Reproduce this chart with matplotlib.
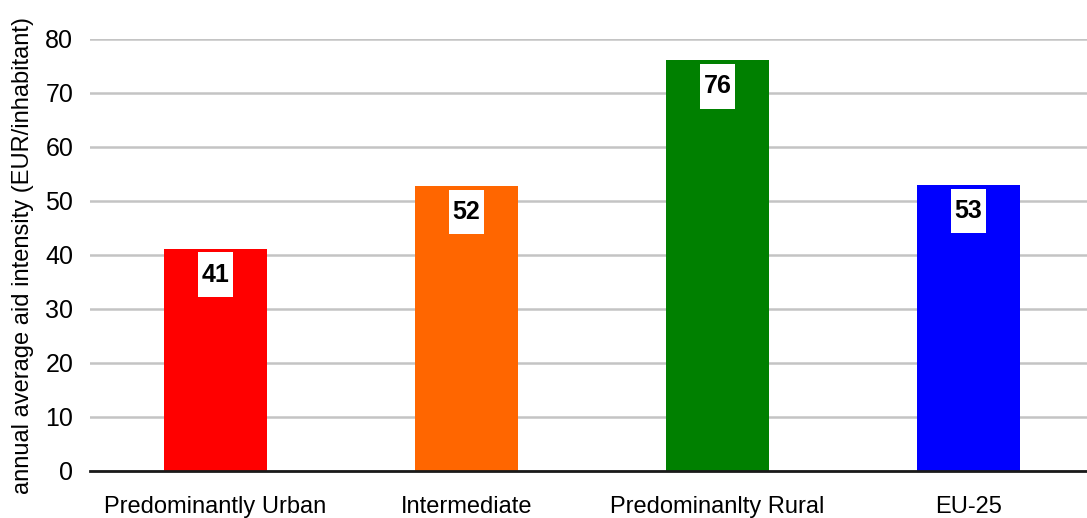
import matplotlib
matplotlib.use("Agg")
import matplotlib.pyplot as plt
from matplotlib.patches import Rectangle

# datos
categorias = ["Predominantly Urban", "Intermediate", "Predominanlty Rural", "EU-25"]
valores = [41.2, 52.8, 76.1, 53.0]
etiquetas = ["41", "52", "76", "53"]
colores = ["#ff0000", "#ff6600", "#008000", "#0000ff"]
yticks = [0, 10, 20, 30, 40, 50, 60, 70, 80]

plt.rcParams['font.family'] = ['Liberation Sans', 'DejaVu Sans']

fig = plt.figure(figsize=(10.87, 5.18), dpi=100)
ax = fig.add_axes([90/1087, 47/518, 997/1087, 432/518])

x = range(len(categorias))
barras = ax.bar(x, valores, width=0.41, color=colores, zorder=3)

# cajas blancas con el valor
for b, txt in zip(barras, etiquetas):
    cx = b.get_x() + b.get_width()/2
    top = b.get_height()
    ax.add_patch(Rectangle((cx - 0.068, top - 0.7 - 8.3), 0.136, 8.3,
                           fc="white", ec="none", zorder=4))
    ax.text(cx, top - 0.7 - 4.15, txt, ha="center", va="center",
            fontsize=18, fontweight="bold", zorder=5)

ax.set_xlim(-0.5, 3.472)
ax.set_ylim(0, 80)
ax.set_yticks(yticks)
ax.set_xticks(list(x))
ax.set_xticklabels(categorias, fontsize=17)
ax.tick_params(axis="y", labelsize=18, length=0, pad=12)
ax.tick_params(axis="x", length=0, pad=18)
ax.grid(axis="y", color="#c4c4c4", linewidth=1.8, zorder=0)

for s in ["top", "right", "left"]:
    ax.spines[s].set_visible(False)
ax.spines["bottom"].set_color("#1a1a1a")
ax.spines["bottom"].set_linewidth(2)
ax.spines["bottom"].set_zorder(6)

ax.set_ylabel("annual average aid intensity (EUR/inhabitant)", fontsize=17, labelpad=8)

fig.savefig("out.png", dpi=100)
